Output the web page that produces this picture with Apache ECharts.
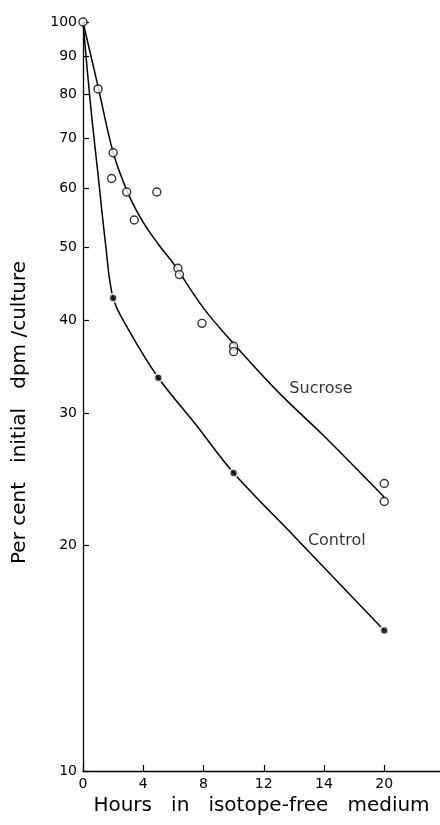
<!DOCTYPE html>
<html lang="en">
  <head>
    <meta charset="UTF-8" />
    <title>Per cent initial dpm/culture</title>
    <script src="https://cdn.jsdelivr.net/npm/echarts@6/dist/echarts.min.js"></script>
  </head>
  <body style="margin: 0; background: #fff">
    <div id="container" style="width: 440px; height: 825px"></div>
    <script>
      // hours, per cent
      const sucrosePoints = [
        [0, 100], [1.0, 81.4], [2.0, 66.9], [1.9, 61.8], [2.9, 59.3],
        [4.9, 59.3], [3.4, 54.4], [6.3, 46.9], [6.4, 46.0], [7.9, 39.6],
        [10, 36.9], [10, 36.3], [20, 24.2], [20, 22.9]
      ];
      const controlPoints = [[2, 42.8], [5, 33.5], [10, 25.0], [20, 15.4]];

      // hand-drawn fitted curves
      const sucroseCurve = [
        [0, 100], [1, 82], [2, 67], [3, 59], [4, 54], [5, 50.5], [6, 47.6],
        [8, 41.5], [10, 37.2], [13, 32], [16, 28], [20, 23.2]
      ];
      const controlCurve = [
        [0, 100], [0.5, 77.5], [1, 62.5], [1.5, 50.5], [2, 42.8], [3, 38.9],
        [5, 33.5], [7.5, 29], [10, 25], [14, 20.6], [20, 15.4]
      ];

      const curveLabels = [
        { name: "Sucrose", at: [15.8, 32.4] },
        { name: "Control", at: [16.85, 20.3] }
      ];

      const xTicks = [0, 4, 8, 12, 16, 20];
      const xTickLabels = ["0", "4", "8", "12", "14", "20"];
      const yTicks = [10, 20, 30, 40, 50, 60, 70, 80, 90, 100];

      const font = "DejaVu Sans";
      const lg = p => [p[0], Math.log10(p[1])];

      let chart = echarts.init(document.getElementById("container"));
      chart.setOption({
        animation: false,
        grid: { left: 83, right: 0, top: 22, bottom: 54 },
        xAxis: {
          type: "value",
          min: 0,
          max: 23.7,
          splitLine: { show: false },
          axisLine: { lineStyle: { color: "#000", width: 1.3 } },
          axisTick: {
            inside: true,
            length: 6,
            customValues: xTicks,
            lineStyle: { color: "#000", width: 1.2 }
          },
          axisLabel: {
            customValues: xTicks,
            color: "#000",
            fontFamily: font,
            fontSize: 14,
            margin: 6,
            formatter: v => xTickLabels[xTicks.indexOf(v)]
          },
          name: "Hours   in   isotope-free   medium",
          nameLocation: "middle",
          nameGap: 25,
          nameTextStyle: { color: "#000", fontFamily: font, fontSize: 20 }
        },
        yAxis: {
          type: "value",
          min: 1,
          max: 2,
          splitLine: { show: false },
          axisLine: { lineStyle: { color: "#000", width: 1.3 } },
          axisTick: {
            inside: true,
            length: 6,
            customValues: yTicks.map(Math.log10),
            lineStyle: { color: "#000", width: 1.2 }
          },
          axisLabel: {
            customValues: yTicks.map(Math.log10),
            color: "#000",
            fontFamily: font,
            fontSize: 14,
            margin: 6,
            formatter: v => String(Math.round(Math.pow(10, v)))
          },
          name: "Per cent   initial   dpm /culture",
          nameLocation: "middle",
          nameGap: 53,
          nameTextStyle: {
            color: "#000",
            fontFamily: font,
            fontSize: 20,
            padding: [0, 32, 0, 0]
          }
        },
        series: [
          {
            type: "line",
            data: sucroseCurve.map(lg),
            smooth: 0.35,
            showSymbol: false,
            lineStyle: { color: "#000", width: 1.5 },
            z: 1
          },
          {
            type: "line",
            data: controlCurve.map(lg),
            smooth: 0.35,
            showSymbol: false,
            lineStyle: { color: "#000", width: 1.5 },
            z: 1
          },
          {
            type: "scatter",
            data: sucrosePoints.map(lg),
            symbol: "circle",
            symbolSize: 8,
            itemStyle: { color: "#fff", borderColor: "#000", borderWidth: 1.4 },
            z: 3
          },
          {
            type: "scatter",
            data: controlPoints.map(lg),
            symbol: "circle",
            symbolSize: 8,
            itemStyle: { color: "#000", borderColor: "#fff", borderWidth: 2 },
            z: 3
          },
          {
            type: "scatter",
            symbolSize: 0,
            data: curveLabels.map(d => ({ name: d.name, value: lg(d.at) })),
            label: {
              show: true,
              position: "inside",
              formatter: "{b}",
              color: "#000",
              fontFamily: font,
              fontSize: 16
            },
            z: 4
          }
        ]
      });
    </script>
  </body>
</html>
